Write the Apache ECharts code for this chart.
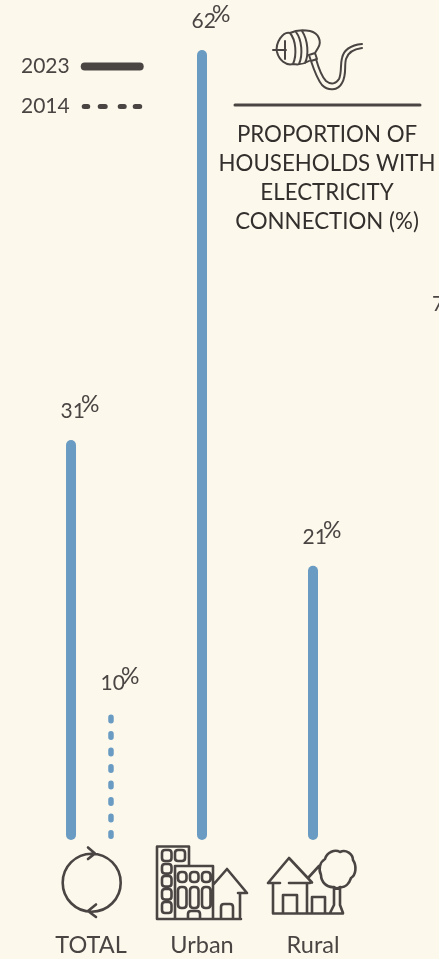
<!DOCTYPE html>
<html><head><meta charset="utf-8">
<style>html,body{margin:0;padding:0;background:#fcf8ec;overflow:hidden}#c{width:439px;height:959px}</style>
<script src="https://cdn.jsdelivr.net/npm/echarts@6/dist/echarts.min.js"></script>
</head><body><div id="c"></div>
<script>
const categories = ['TOTAL', 'Urban', 'Rural'];
const years = ['2023', '2014'];
const values2023 = [31, 62, 21];
const values2014 = [10, null, null];
const titleText = 'PROPORTION OF\nHOUSEHOLDS WITH\nELECTRICITY\nCONNECTION (%)';

const INK = '#4a4543', BLUE = '#6a9cc3', FONT = 'Lato';
const chart = echarts.init(document.getElementById('c'), null, {renderer:'canvas'});

function barItem(isDotted, otherValues) {
  return function (params, api) {
    const cat = api.value(0), v = api.value(1);
    if (v == null || isNaN(v)) return null;
    const band = api.size([1, 0])[0];
    const paired = otherValues[cat] != null;
    const off = paired ? (isDotted ? 0.18 : -0.18) * band : 0;
    const top = api.coord([cat, v]);
    const base = api.coord([cat, -0.8]);
    const x = top[0] + off;
    const label = {
      type: 'text',
      style: {
        x: x + 9, y: top[1] - (isDotted ? 3 : 11), align: 'center', verticalAlign: 'bottom',
        text: '{n|' + v + '}{p|%}',
        rich: {
          n: {fontFamily: FONT, fontSize: 21, fill: INK},
          p: {fontFamily: FONT, fontSize: 23, fill: INK, padding: [0, 0, 13, -4]}
        }
      }
    };
    const mark = isDotted ? {
      type: 'line',
      shape: {x1: x, y1: top[1], x2: x, y2: base[1] - 2},
      style: {stroke: BLUE, lineWidth: 5.5, lineCap: 'round', lineDash: [3.5, 13], lineDashOffset: 3.5, fill: null}
    } : {
      type: 'rect',
      shape: {x: x - 5, y: top[1], width: 10, height: base[1] - top[1], r: 5},
      style: {fill: BLUE}
    };
    return {type: 'group', children: [mark, label]};
  };
}

const rr = (x, y, w, h, r) =>
  ` M${x + r} ${y}H${x + w - r}Q${x + w} ${y} ${x + w} ${y + r}V${y + h - r}Q${x + w} ${y + h} ${x + w - r} ${y + h}H${x + r}Q${x} ${y + h} ${x} ${y + h - r}V${y + r}Q${x} ${y} ${x + r} ${y}Z`;

const circlePath = 'M91.7 853.7A29 29 0 1 1 91.7 911.7A29 29 0 1 1 91.7 853.7Z M88 847.5L95 853.5L88 859 M96 904.5L88 911L96 917';
const buildingPath =
  'M175 919H157V846.5H189V866 M175 866H213V919H175Z M157 919H241' +
  rr(162, 850, 9.5, 11, 3) + rr(175, 850, 10, 11, 3) + rr(162, 864, 9.5, 9.5, 3) + rr(162, 876, 9.5, 10.5, 3) + rr(162, 889, 9.5, 10.5, 3) + rr(162, 902, 9.5, 11, 3) +
  rr(178, 872, 8.5, 10, 3.5) + rr(190, 872, 8.5, 10, 3.5) + rr(202, 872, 8.5, 10, 3.5) +
  rr(178, 887, 8.5, 21, 3.5) + rr(190, 887, 8.5, 21, 3.5) + rr(202, 887, 8.5, 21, 3.5) +
  ' M188 919V914Q188 911 191 911H197Q200 911 200 914V919' +
  ' M213 885L227 869L247 893H238 M240 893V919 M221 919V907Q221 904 224 904H230Q233 904 233 907V919';
const ruralPath =
  'M268 883L289 858L312 882.5 M268 883H280 M289 883H310 M273 883V913.5H343 M307 883V913.5 M283 913.5V895H297V913.5 M312 913.5V897H325V913.5' +
  ' M308 878L319 866' +
  ' M334 887C327 888 321 882 321 875C318 869 320 862 325 859C327 852 335 849 340 852C346 849 353 854 353 860C357 866 356 875 351 878C349 884 345 888 340 887C338 889 336 889 334 887Z' +
  ' M334 887V905L330 913 M340 887V905L343 913';
const plugPath =
  'M273 50H286 M285 41V59' +
  ' M290 33C283 31 275 43 277 52C279 60 286 66 293 64' +
  ' M290 33C296 40 297 55 293 64 M296 32C302 40 303 55 299 64 M302 31C308 40 309 55 305 63' +
  ' M290 33C296 30 304 30 310 31C319 33 322 42 318 48L315 53 M293 64C298 65 304 64 309 61' +
  ' M309 55L315 53L317 59L311 61Z' +
  ' M311 61C314 70 318 80 322 85C328 91 338 91 342 83C347 75 344 66 346 59C348 52 354 49 362 48' +
  ' M316 59C318 66 321 76 326 81C331 85 336 84 339 79C342 72 340 66 342 58C344 49 352 45 362 44';

echarts.graphic.registerShape('iconCircle', echarts.graphic.extendPath(circlePath));
echarts.graphic.registerShape('iconBuilding', echarts.graphic.extendPath(buildingPath));
echarts.graphic.registerShape('iconRural', echarts.graphic.extendPath(ruralPath));
echarts.graphic.registerShape('iconPlug', echarts.graphic.extendPath(plugPath));

const ico = (type, w) => ({
  type, silent: true, z: 5,
  style: {fill: null, stroke: INK, lineWidth: w || 2.6, lineCap: 'round', lineJoin: 'round'}
});

const pill = (x, w) => ` M${x + 2.5} 1.5H${x + w - 2.5}A2.5 2.5 0 0 1 ${x + w - 2.5} 6.5H${x + 2.5}A2.5 2.5 0 0 1 ${x + 2.5} 1.5Z`;
const dashIcon = 'path://M0 0L0.01 0L0 0.01Z M63 8L62.99 8L63 7.99Z' + pill(1, 8.5) + pill(17, 10) + pill(37, 9) + pill(52, 9.5);

chart.setOption({
  backgroundColor: '#fcf8ec',
  animation: false,
  textStyle: {fontFamily: FONT},
  grid: {left: 35.5, width: 333, top: 50, bottom: 119},
  xAxis: {
    type: 'category', data: categories,
    axisLine: {show: false}, axisTick: {show: false},
    axisLabel: {fontFamily: FONT, fontSize: 23.5, color: INK, margin: 93}
  },
  yAxis: {type: 'value', min: -0.8, max: 62, show: false, splitLine: {show: false}},
  legend: {
    show: true, orient: 'vertical', left: 16, top: 51, align: 'right',
    itemWidth: 63, itemHeight: 8, itemGap: 19, selectedMode: false,
    textStyle: {fontFamily: FONT, fontSize: 21, color: INK, padding: [0, 6, 0, 0]},
    data: [
      {name: years[0], icon: 'path://M4 0H59A4 4 0 0 1 59 8H4A4 4 0 0 1 4 0Z', itemStyle: {color: INK}},
      {name: years[1], icon: dashIcon, itemStyle: {color: INK}}
    ]
  },
  series: [
    {name: years[0], type: 'custom', renderItem: barItem(false, values2014), clip: false,
      encode: {x: 0, y: 1}, itemStyle: {color: INK},
      data: categories.map((c, i) => [i, values2023[i]])},
    {name: years[1], type: 'custom', renderItem: barItem(true, values2023), clip: false,
      encode: {x: 0, y: 1}, itemStyle: {color: INK},
      data: categories.map((c, i) => [i, values2014[i]])}
  ],
  graphic: [
    ico('iconCircle'), ico('iconBuilding'), ico('iconRural'), ico('iconPlug', 2),
    {type: 'line', shape: {x1: 235, y1: 105, x2: 420, y2: 105}, style: {stroke: INK, lineWidth: 3, lineCap: 'round'}, z: 5},
    {type: 'text', x: 327, y: 120, z: 5, style: {text: titleText, align: 'center', verticalAlign: 'top', fontFamily: FONT, fontSize: 22.3, lineHeight: 29, fill: '#332f2d'}},
    {type: 'text', x: 432, y: 294, z: 5, style: {text: '7', fontFamily: FONT, fontSize: 21, fill: INK}}
  ]
});
</script></body></html>
